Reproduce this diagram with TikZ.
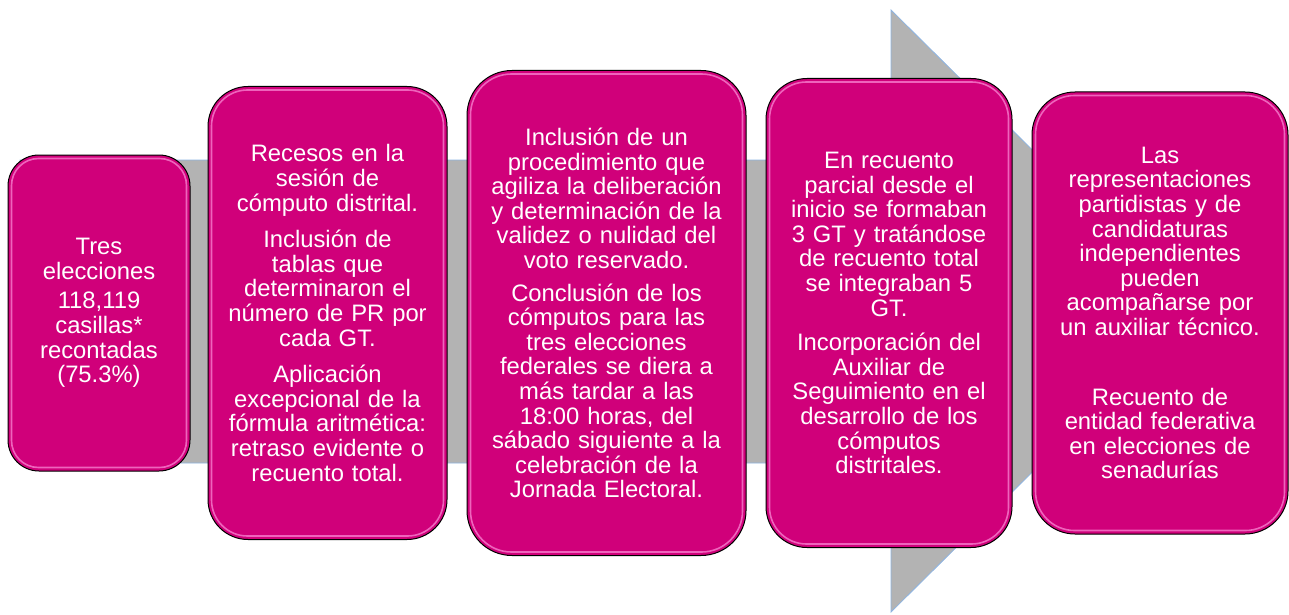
\documentclass[tikz,border=0pt]{standalone}
\usepackage{fontspec}
\setmainfont{Liberation Sans}
\usetikzlibrary{positioning}
\definecolor{stagemagenta}{RGB}{208,0,122}
\definecolor{glosspink}{RGB}{246,125,205}
\definecolor{arrowgray}{RGB}{179,179,179}
\definecolor{arrowblue}{RGB}{141,180,226}
\tikzset{
    stage/.style={
        draw=black,
        line width=1pt,
        fill=stagemagenta,
        text=white,
        align=center,
        inner sep=0pt,
        font=\fontsize{23.8}{24.6}\selectfont
    },
    % brillo interior de cada caja
    gloss/.style={
        draw=glosspink,
        line width=1.6pt,
        opacity=0.8
    }
}

\begin{document}
\begin{tikzpicture}[x=1pt,y=-1pt]
    \useasboundingbox (0,0) rectangle (1289,615);

    % flecha de fondo
    \draw[arrowblue, line width=0.8pt, fill=arrowgray] (20,160) -- (891,160) -- (891,10) -- (1195,311) -- (891,612) -- (891,463) -- (20,463) -- cycle;

    \node[stage, minimum width=182pt, minimum height=316pt, rounded corners=31pt, text width=176pt] (s1) at (99,313)
        {Tres\\elecciones\\[5pt]118,119\\casillas*\\recontadas\\(75.3\%)};
    \node[stage, minimum width=239pt, minimum height=453pt, rounded corners=40pt, text width=233pt, right=17pt of s1] (s2)
        {Recesos en la\\sesión de\\cómputo distrital.\\[12pt]Inclusión de\\tablas que\\determinaron el\\número de PR por\\cada GT.\\[12pt]Aplicación\\excepcional de la\\fórmula aritmética:\\retraso evidente o\\recuento total.};
    \node[stage, minimum width=279pt, minimum height=485pt, rounded corners=45pt, text width=273pt, right=19pt of s2] (s3)
        {Inclusión de un\\procedimiento que\\agiliza la deliberación\\y determinación de la\\validez o nulidad del\\voto reservado.\\[8pt]Conclusión de los\\cómputos para las\\tres elecciones\\federales se diera a\\más tardar a las\\18:00 horas, del\\sábado siguiente a la\\celebración de la\\Jornada Electoral.};
    \node[stage, minimum width=246pt, minimum height=469pt, rounded corners=41pt, text width=240pt, right=19pt of s3] (s4)
        {En recuento\\parcial desde el\\inicio se formaban\\3 GT y tratándose\\de recuento total\\se integraban 5\\GT.\\[10pt]Incorporación del\\Auxiliar de\\Seguimiento en el\\desarrollo de los\\cómputos\\distritales.};
    \node[stage, minimum width=256pt, minimum height=442pt, rounded corners=43pt, text width=250pt, right=19pt of s4] (s5)
        {Las\\representaciones\\partidistas y de\\candidaturas\\independientes\\pueden\\acompañarse por\\un auxiliar técnico.\\[45pt]Recuento de\\entidad federativa\\en elecciones de\\senadurías};

    \foreach \n/\r in {s1/27,s2/36,s3/41,s4/37,s5/39}
        \draw[gloss, rounded corners=\r pt] ([shift={(4,4)}]\n.north west) rectangle ([shift={(-4,-4)}]\n.south east);
\end{tikzpicture}
\end{document}
